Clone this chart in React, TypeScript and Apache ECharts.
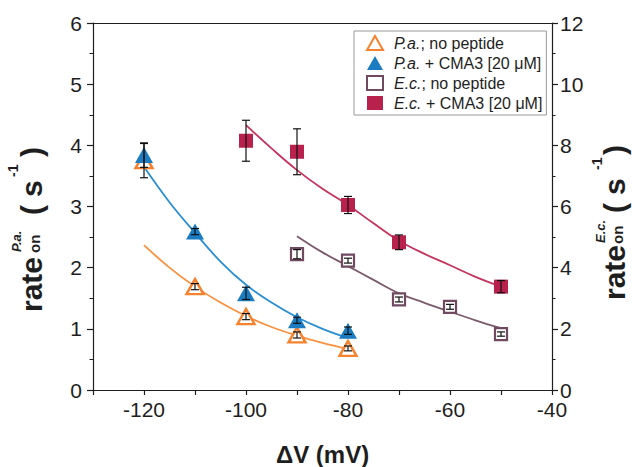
import React, { useEffect, useRef } from "react";
import * as echarts from "echarts";

// Membrane potential (mV)
const paVoltages = [-120, -110, -100, -90, -80];
const ecVoltages = [-100, -90, -80, -70, -50];
const ecNoVoltages = [-90, -80, -70, -60, -50];

// P. aeruginosa rates (left axis, s^-1)
const paNoPeptide = [3.75, 1.69, 1.2, 0.9, 0.68];
const paNoPeptideErr = [0.28, 0.05, 0.05, 0.05, 0.04];
const paCma3 = [3.84, 2.59, 1.58, 1.14, 0.97];
const paCma3Err = [0.2, 0.05, 0.1, 0.05, 0.06];

// E. coli rates (right axis, s^-1)
const ecNoPeptide = [4.44, 4.23, 2.96, 2.72, 1.83];
const ecNoPeptideErr = [0.15, 0.08, 0.08, 0.08, 0.07];
const ecCma3 = [8.15, 7.79, 6.05, 4.83, 3.38];
const ecCma3Err = [0.67, 0.75, 0.28, 0.24, 0.2];

// Fitted curves
const paFitX = [-120, -115, -110, -105, -100, -95, -90, -85, -80];
const paNoFit = [2.37, 2.0, 1.69, 1.43, 1.21, 1.03, 0.89, 0.77, 0.67];
const paCmaFit = [3.65, 3.07, 2.57, 2.1, 1.72, 1.43, 1.19, 1.0, 0.85];
const ecCmaFitX = [-100, -95, -90, -85, -80, -75, -70, -65, -60, -55, -50];
const ecCmaFit = [8.66, 7.9, 7.19, 6.58, 6.05, 5.45, 4.88, 4.45, 4.08, 3.7, 3.38];
const ecNoFitX = [-90, -85, -80, -75, -70, -65, -60, -55, -50];
const ecNoFit = [5.03, 4.5, 4.05, 3.6, 3.16, 2.85, 2.56, 2.28, 2.02];

const leftTicks = [0, 1, 2, 3, 4, 5, 6];
const rightTicks = [0, 2, 4, 6, 8, 10, 12];

const NAMES = {
  paNo: "P.a.; no peptide",
  paCma: "P.a. + CMA3 [20 μM]",
  ecNo: "E.c.; no peptide",
  ecCma: "E.c. + CMA3 [20 μM]",
};

const FONT = '"Liberation Sans", Arial, sans-serif';
const INK = "#1e1e1e";
const ORANGE = "#F7822E";
const BLUE = "#1B7CC1";
const CRIMSON = "#B8214C";
const MAUVE = "#6F4A60";

const zip = (xs: number[], ys: number[]) => xs.map((x, i) => [x, ys[i]]);
const zip3 = (xs: number[], ys: number[], es: number[]) =>
  xs.map((x, i) => [x, ys[i], es[i]]);

function errorSeries(data: number[][], yAxisIndex: number) {
  return {
    type: "custom",
    xAxisIndex: 0,
    yAxisIndex,
    z: 10,
    silent: true,
    data,
    renderItem: (params: any, api: any) => {
      const x = api.value(0);
      const y = api.value(1);
      const e = api.value(2);
      const top = api.coord([x, y + e]);
      const bot = api.coord([x, y - e]);
      const w = 4;
      const style = { stroke: "#111", lineWidth: 1.2 };
      return {
        type: "group",
        children: [
          { type: "line", shape: { x1: top[0], y1: top[1], x2: bot[0], y2: bot[1] }, style },
          { type: "line", shape: { x1: top[0] - w, y1: top[1], x2: top[0] + w, y2: top[1] }, style },
          { type: "line", shape: { x1: bot[0] - w, y1: bot[1], x2: bot[0] + w, y2: bot[1] }, style },
        ],
      };
    },
  };
}

// Pieces of a vertical (bottom-to-top) axis title: u runs upward along the
// reading direction from the anchor, v is the offset across it (negative = left).
type Part = { t: string; u: number; v: number; size: number; italic?: boolean };

function axisTitle(gx: number, gy: number, parts: Part[]) {
  return parts.map((p) => ({
    type: "text",
    x: gx + p.v,
    y: gy - p.u,
    rotation: Math.PI / 2,
    silent: true,
    style: {
      text: p.t,
      fontSize: p.size,
      fontWeight: "bold",
      fontStyle: p.italic ? "italic" : "normal",
      fontFamily: FONT,
      fill: INK,
      align: "left",
      verticalAlign: "middle",
    },
  }));
}

const LEG_SIZE = 16;
const legendRich = {
  i: { fontStyle: "italic", fontSize: LEG_SIZE, fontFamily: FONT, color: INK, padding: [0, 0, 0, 6] },
  n: { fontSize: LEG_SIZE, fontFamily: FONT, color: INK },
};

function legendLabel(name: string) {
  const m = name.match(/^(P\.a\.|E\.c\.)(.*)$/);
  if (!m) return name;
  return `{i|${m[1]}}{n|${m[2]}}`;
}

export default function App() {
  const ref = useRef<HTMLDivElement>(null);

  useEffect(() => {
    document.body.style.margin = "0";
    if (!ref.current) return;
    const chart = echarts.init(ref.current, null, { renderer: "svg" });

    const axisLine = { show: true, lineStyle: { color: INK, width: 1.2 } };
    const axisLabel = { fontSize: 21, fontFamily: FONT, color: INK };

    chart.setOption({
      animation: false,
      backgroundColor: "#fff",
      grid: { left: 93, right: 83, top: 23, bottom: 77, outerBoundsMode: "none" },
      legend: {
        orient: "vertical",
        left: 354,
        top: 31,
        padding: [4, 4, 4, 12],
        itemGap: 4,
        itemWidth: 16,
        itemHeight: 14,
        borderColor: "#9a9a9a",
        borderWidth: 1,
        data: [NAMES.paNo, NAMES.paCma, NAMES.ecNo, NAMES.ecCma],
        formatter: legendLabel,
        textStyle: { fontSize: LEG_SIZE, fontFamily: FONT, color: INK, rich: legendRich },
      },
      xAxis: [
        {
          type: "value",
          min: -130,
          max: -40,
          interval: 10,
          name: "ΔV (mV)",
          nameLocation: "middle",
          nameGap: 52,
          nameTextStyle: { fontSize: 24, fontWeight: "bold", fontFamily: FONT, color: INK },
          axisLine: { ...axisLine, onZero: false },
          axisTick: { show: true, length: 5, lineStyle: { color: INK, width: 1.2 } },
          axisLabel: {
            ...axisLabel,
            margin: 9,
            formatter: (v: number) => (v % 20 === 0 ? String(v) : ""),
          },
          splitLine: { show: false },
        },
        {
          type: "value",
          position: "top",
          min: -130,
          max: -40,
          axisLine: { ...axisLine, onZero: false },
          axisTick: { show: false },
          axisLabel: { show: false },
          splitLine: { show: false },
        },
      ],
      yAxis: [
        {
          type: "value",
          min: leftTicks[0],
          max: leftTicks[leftTicks.length - 1],
          interval: 1,
          position: "left",
          axisLine: { ...axisLine, onZero: false },
          axisTick: { show: true, length: 6, lineStyle: { color: INK, width: 1.2 } },
          minorTick: { show: true, splitNumber: 2, length: 3.5, lineStyle: { color: INK, width: 1 } },
          axisLabel: { ...axisLabel, margin: 11 },
          splitLine: { show: false },
        },
        {
          type: "value",
          min: rightTicks[0],
          max: rightTicks[rightTicks.length - 1],
          interval: 2,
          position: "right",
          axisLine: { ...axisLine, onZero: false },
          axisTick: { show: true, length: 6, lineStyle: { color: INK, width: 1.2 } },
          minorTick: { show: true, splitNumber: 2, length: 3.5, lineStyle: { color: INK, width: 1 } },
          axisLabel: { ...axisLabel, margin: 8 },
          splitLine: { show: false },
        },
      ],
      graphic: [
        ...axisTitle(31.6, 312, [
          { t: "rate", u: 0, v: 0, size: 30 },
          { t: "P.a.", u: 60, v: -15, size: 13, italic: true },
          { t: "on", u: 59, v: 3.2, size: 15 },
          { t: "(", u: 97, v: 0, size: 30 },
          { t: "s", u: 115, v: 0, size: 30 },
          { t: "-1", u: 135, v: -18.5, size: 14 },
          { t: ")", u: 155, v: 0, size: 30 },
        ]),
        ...axisTitle(614.6, 300, [
          { t: "rate", u: 0, v: 0, size: 30 },
          { t: "E.c.", u: 57, v: -14, size: 13, italic: true },
          { t: "on", u: 56, v: 3.2, size: 15 },
          { t: "(", u: 87, v: 0, size: 30 },
          { t: "s", u: 105, v: 0, size: 30 },
          { t: "-1", u: 130, v: -17.5, size: 14 },
          { t: ")", u: 145, v: 0, size: 30 },
        ]),
      ],
      series: [
        // fitted curves
        {
          type: "line",
          yAxisIndex: 0,
          data: zip(paFitX, paNoFit),
          smooth: 0.4,
          showSymbol: false,
          silent: true,
          lineStyle: { color: "#F89240", width: 1.8 },
          z: 1,
        },
        {
          type: "line",
          yAxisIndex: 0,
          data: zip(paFitX, paCmaFit),
          smooth: 0.4,
          showSymbol: false,
          silent: true,
          lineStyle: { color: "#2A8ED2", width: 1.8 },
          z: 1,
        },
        {
          type: "line",
          yAxisIndex: 1,
          data: zip(ecCmaFitX, ecCmaFit),
          smooth: 0.4,
          showSymbol: false,
          silent: true,
          lineStyle: { color: "#C4345D", width: 1.8 },
          z: 1,
        },
        {
          type: "line",
          yAxisIndex: 1,
          data: zip(ecNoFitX, ecNoFit),
          smooth: 0.4,
          showSymbol: false,
          silent: true,
          lineStyle: { color: "#7B5A6B", width: 1.8 },
          z: 1,
        },
        // measured points
        {
          name: NAMES.paNo,
          type: "scatter",
          yAxisIndex: 0,
          data: zip(paVoltages, paNoPeptide),
          symbol: "triangle",
          symbolSize: [17, 15],
          itemStyle: { color: "#fff", borderColor: ORANGE, borderWidth: 2.4, opacity: 1 },
          z: 3,
        },
        {
          name: NAMES.paCma,
          type: "scatter",
          yAxisIndex: 0,
          data: zip(paVoltages, paCma3),
          symbol: "triangle",
          symbolSize: [18, 16],
          itemStyle: { color: BLUE, opacity: 1 },
          z: 4,
        },
        {
          name: NAMES.ecNo,
          type: "scatter",
          yAxisIndex: 1,
          data: zip(ecNoVoltages, ecNoPeptide),
          symbol: "rect",
          symbolSize: 12,
          itemStyle: { color: "#fff", borderColor: MAUVE, borderWidth: 2.2, opacity: 1 },
          z: 3,
        },
        {
          name: NAMES.ecCma,
          type: "scatter",
          yAxisIndex: 1,
          data: zip(ecVoltages, ecCma3),
          symbol: "rect",
          symbolSize: 14,
          itemStyle: { color: CRIMSON, opacity: 1 },
          z: 4,
        },
        // error bars
        errorSeries(zip3(paVoltages, paNoPeptide, paNoPeptideErr), 0),
        errorSeries(zip3(paVoltages, paCma3, paCma3Err), 0),
        errorSeries(zip3(ecNoVoltages, ecNoPeptide, ecNoPeptideErr), 1),
        errorSeries(zip3(ecVoltages, ecCma3, ecCma3Err), 1),
      ],
    });

    return () => chart.dispose();
  }, []);

  return <div ref={ref} style={{ width: 635, height: 467 }} />;
}
